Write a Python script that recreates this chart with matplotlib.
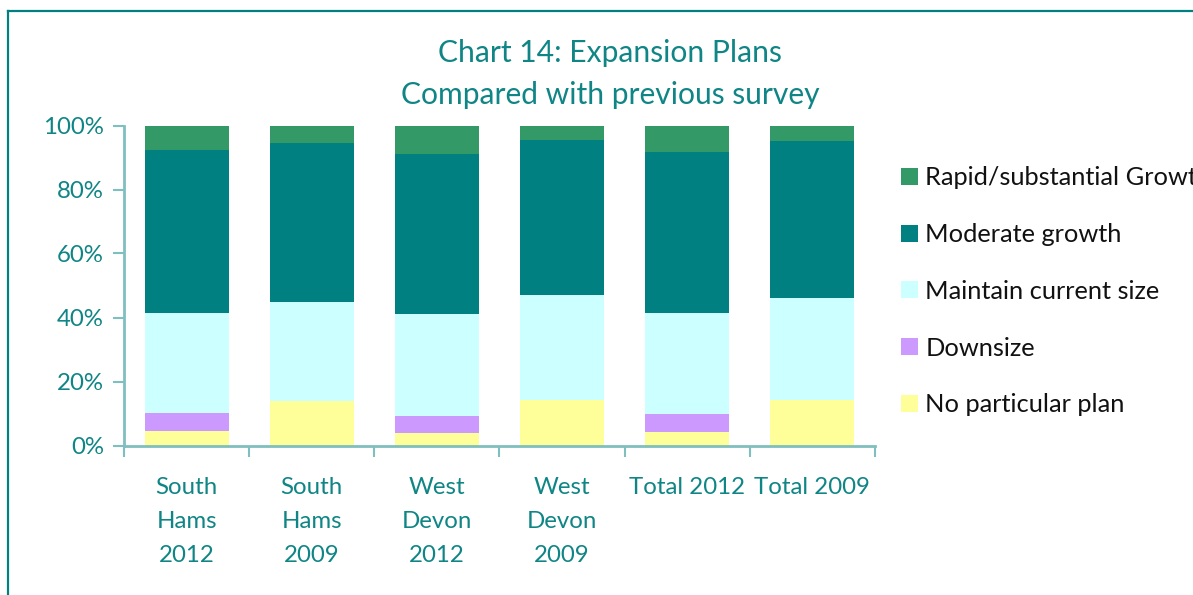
import numpy as np
import matplotlib.pyplot as plt
from matplotlib.lines import Line2D

plt.rcParams['font.family'] = ['Lato', 'DejaVu Sans']

categories = ['South\nHams\n2012', 'South\nHams\n2009', 'West\nDevon\n2012',
              'West\nDevon\n2009', 'Total 2012', 'Total 2009']

# shares of respondents (%), bottom to top of each stack
no_plan = [4.5, 13.9, 3.9, 14.3, 4.2, 14.3]
downsize = [5.7, 0.0, 5.4, 0.0, 5.6, 0.0]
maintain = [31.3, 30.9, 31.9, 32.7, 31.6, 31.8]
moderate = [50.8, 49.7, 50.0, 48.5, 50.3, 49.1]
rapid = [7.7, 5.5, 8.8, 4.5, 8.3, 4.8]

series = [
    ('No particular plan', no_plan, '#FFFF99'),
    ('Downsize', downsize, '#CC99FF'),
    ('Maintain current size', maintain, '#CCFFFF'),
    ('Moderate growth', moderate, '#008080'),
    ('Rapid/substantial Growth', rapid, '#339966'),
]

teal = '#0f8585'
axis_col = '#80bfbf'

fig = plt.figure(figsize=(11.93, 5.95), dpi=100)
ax = fig.add_axes([124 / 1193, 1 - 445.5 / 595, 751 / 1193, 320 / 595])

x = np.arange(len(categories))
bottom = np.zeros(len(categories))
handles = []
for name, vals, col in series:
    vals = np.array(vals) / 100
    b = ax.bar(x, vals, width=0.67, bottom=bottom, color=col, label=name)
    bottom += vals
    handles.append(b)

ax.set_xlim(-0.5, len(categories) - 0.5)
ax.set_ylim(0, 1)
ax.set_yticks(np.linspace(0, 1, 6))
ax.set_yticklabels([f'{int(v)}%' for v in np.linspace(0, 100, 6)])

ax.set_xticks(x)
ax.set_xticklabels(categories, linespacing=1.75)
ax.set_xticks(np.arange(-0.5, len(categories)), minor=True)
ax.tick_params(axis='x', which='major', length=0, pad=23, labelsize=17.3,
               labelcolor=teal)
ax.tick_params(axis='x', which='minor', length=8, width=1.5, color=axis_col)
ax.tick_params(axis='y', length=8, width=1.5, color=axis_col, pad=6.5,
               labelsize=17.3, labelcolor=teal)

for s in ['top', 'right']:
    ax.spines[s].set_visible(False)
for s in ['left', 'bottom']:
    ax.spines[s].set_color(axis_col)
    ax.spines[s].set_linewidth(2)

fig.text(610 / 1193, 1 - 74 / 595, 'Chart 14: Expansion Plans\nCompared with previous survey',
         ha='center', va='center', fontsize=21.6, color=teal, linespacing=1.57)

leg = fig.legend(handles[::-1], [s[0] for s in series[::-1]],
                 loc='upper left', bbox_to_anchor=(891 / 1193, 1 - 156 / 595),
                 frameon=False, fontsize=18.3, handlelength=0.65,
                 handleheight=0.65, handletextpad=0.3, labelspacing=1.33,
                 borderaxespad=0)
for t in leg.get_texts():
    t.set_color('#111111')

# outer frame of the chart area
fig.add_artist(Line2D([8 / 1193, 8 / 1193], [0, 1 - 11 / 595],
                      transform=fig.transFigure, color='#008080', lw=1.6))
fig.add_artist(Line2D([8 / 1193, 1], [1 - 11 / 595, 1 - 11 / 595],
                      transform=fig.transFigure, color='#008080', lw=1.6))

plt.savefig('out.png', dpi=100)
